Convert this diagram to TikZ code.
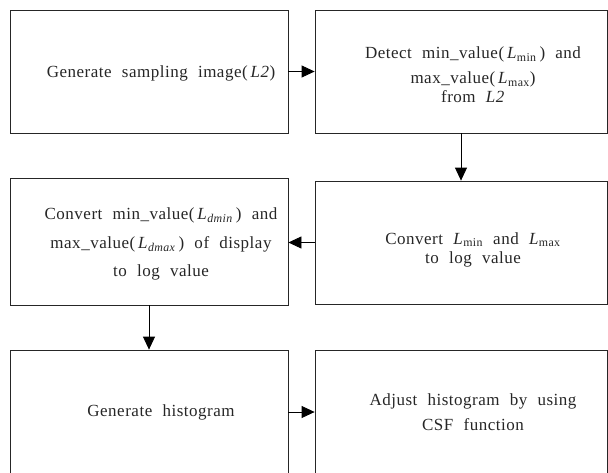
\documentclass[tikz,border=0pt]{standalone}
\usepackage{fontspec}
\setmainfont{Liberation Serif}[LetterSpace=3]
\usetikzlibrary{arrows.meta}

\newcommand{\Lsub}[1]{\textit{L}\textsubscript{#1}}
\newcommand{\labfont}{\fontsize{17}{19}\selectfont\setlength{\spaceskip}{0.6em}}

\begin{document}
\begin{tikzpicture}[node distance=312pt,
  box/.style={rectangle,draw=black!85,line width=0.8pt,minimum width=278pt,minimum height=123pt,inner sep=0pt},
  lab/.style={align=center,text=black!85,xshift=12pt,font=\labfont},
  flow/.style={line width=0.8pt,-{Triangle[length=13pt,width=12pt]}}]
\clip (0,0) rectangle (608pt,-472pt);
\node[box] (b1) at (149pt,-71.5pt) {};
\node[box,right of=b1,minimum width=292pt] (b2) {};
\node[box,below of=b1,node distance=170pt,minimum height=127pt] (b3) {};
\node[box,below of=b2,node distance=171pt,minimum width=292pt] (b4) {};
\node[box,below of=b3,node distance=170.5pt,minimum height=124pt] (b5) {};
\node[box,right of=b5,minimum width=292pt,minimum height=124pt] (b6) {};
% texts
\node[lab,yshift=-1.5pt] (t1) at (b1) {Generate sampling image(\,\textit{L2})};
\node[lab,yshift=-3.5pt] (t2) at (b2) {Detect min\_value(\,\Lsub{min}\,) and\\[6pt] max\_value(\,\Lsub{max})\\ from \textit{L2}};
\node[lab,yshift=-2.5pt] (t3) at (b3) {Convert min\_value(\,\Lsub{\textit{dmin}}\,) and\\[10pt] max\_value(\,\Lsub{\textit{dmax}}\,) of display\\[9pt] to log value};
\node[lab,yshift=-7pt] (t4) at (b4) {Convert \Lsub{min} and \Lsub{max}\\ to log value};
\node[lab] (t5) at (b5) {Generate histogram};
\node[lab] (t6) at (b6) {Adjust histogram by using\\[6pt] CSF function};
\draw[flow] (b1) -- (b2);
\draw[flow] (b2) -- (b4);
\draw[flow] (b4.west) -- (b4.west -| b3.east);
\draw[flow] (b3) -- (b5);
\draw[flow] (b5) -- (b6);
\end{tikzpicture}
\end{document}
